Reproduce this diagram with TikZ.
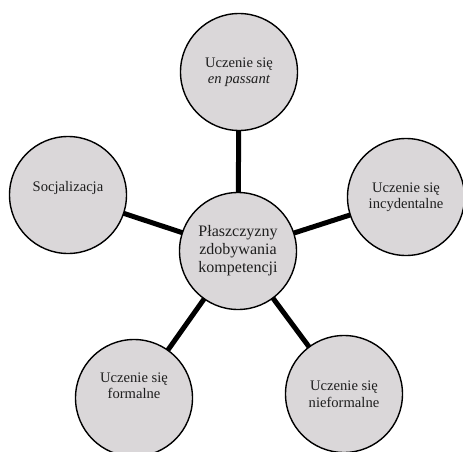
\documentclass[tikz,border=0pt]{standalone}
\usepackage{fontspec}
\setmainfont{Liberation Serif}
\definecolor{circfill}{RGB}{218,215,217}
\definecolor{txt}{RGB}{30,30,30}
\pgfdeclarelayer{background}
\pgfsetlayers{background,main}
\begin{document}
\begin{tikzpicture}[x=1pt,y=-1pt,
  circ/.style={circle,draw=black,line width=1.4pt,fill=circfill,minimum size=117pt,inner sep=0pt,align=center,text=txt,font=\fontsize{14.6}{16.5}\selectfont},
  hub/.style={circ,font=\fontsize{16}{18}\selectfont},
  link/.style={draw=black,line width=5pt}]
\useasboundingbox (0,0) rectangle (463,452);
\node[hub]  (c)  at (238,251) {Płaszczyzny\\zdobywania\\kompetencji};
\node[circ] (t)  at (239,72)  {Uczenie się\\\textit{en passant}};
\node[circ] (r)  at (406,197) {Uczenie się\\incydentalne};
\node[circ] (br) at (344,394) {Uczenie się\\nieformalne};
\node[circ] (bl) at (134,398) {Uczenie się\\formalne\\[8pt]\mbox{}};
\node[circ] (l)  at (68,195)  {Socjalizacja\\\mbox{}};
\begin{pgfonlayer}{background}
\foreach \n in {t,r,br,bl,l}
  \draw[link] (c.center) -- (\n.center);
\end{pgfonlayer}
\end{tikzpicture}
\end{document}
